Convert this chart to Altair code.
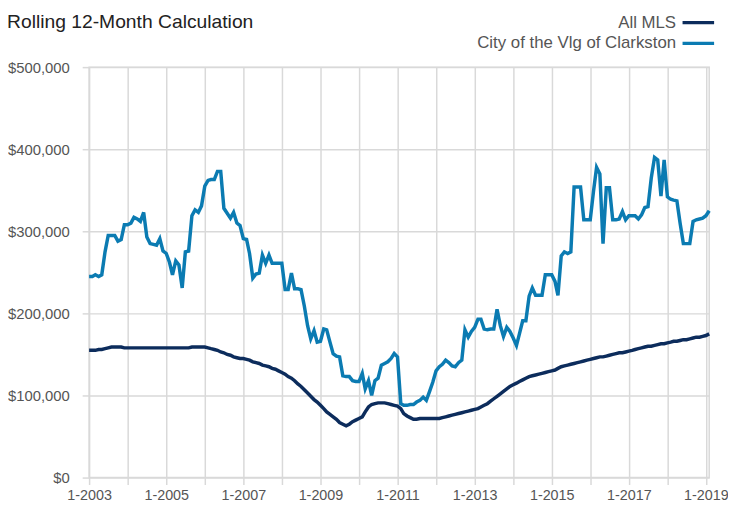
import altair as alt
import pandas as pd

# ---- data (values in $ thousands, monthly, Jan 2003 .. Feb 2019) ----
chart_title = "Rolling 12-Month Calculation"
series_names = ["All MLS", "City of the Vlg of Clarkston"]
series_colors = ["#0c2c5c", "#0b7bb2"]

all_mls = [
    155, 155, 155, 156, 156, 157, 158, 159, 159, 159, 159, 158,   # 2003
    158, 158, 158, 158, 158, 158, 158, 158, 158, 158, 158, 158,   # 2004
    158, 158, 158, 158, 158, 158, 158, 158, 159, 159, 159, 159,   # 2005
    159, 158, 157, 156, 155, 153, 152, 150, 149, 147, 146, 145,   # 2006
    145, 144, 143, 141, 140, 139, 137, 136, 135, 133, 132, 130,   # 2007
    128, 126, 123, 121, 118, 114, 111, 107, 103, 99, 95, 92,      # 2008
    88, 84, 80, 77, 74, 71, 67, 65, 63, 65, 68, 70,               # 2009
    72, 74, 80, 86, 89, 90, 91, 91, 91, 90, 89, 88,               # 2010
    87, 84, 78, 75, 73, 71, 71, 72, 72, 72, 72, 72,               # 2011
    72, 72, 73, 74, 75, 76, 77, 78, 79, 80, 81, 82,               # 2012
    83, 84, 86, 88, 90, 93, 96, 99, 102, 105, 108, 111,           # 2013
    113, 115, 117, 119, 121, 123, 124, 125, 126, 127, 128, 129,   # 2014
    130, 131, 133, 135, 136, 137, 138, 139, 140, 141, 142, 143,   # 2015
    144, 145, 146, 147, 147, 148, 149, 150, 151, 152, 152, 153,   # 2016
    154, 155, 156, 157, 158, 159, 160, 160, 161, 162, 163, 163,   # 2017
    164, 165, 166, 166, 167, 168, 168, 169, 170, 171, 171, 172,   # 2018
    173, 175,                                                     # 2019
]

clarkston = [
    245, 245, 247, 245, 247, 275, 295, 295, 295, 288, 290, 308,   # 2003
    308, 310, 317, 315, 312, 323, 293, 285, 284, 283, 291, 276,   # 2004
    273, 262, 247, 264, 259, 231, 275, 276, 319, 326, 323, 331,   # 2005
    355, 362, 363, 363, 373, 373, 328, 322, 316, 323, 310, 307,   # 2006
    291, 290, 273, 243, 248, 249, 271, 261, 271, 261, 261, 261,   # 2007
    261, 229, 229, 249, 230, 230, 229, 209, 185, 169, 179, 165,   # 2008
    166, 181, 180, 165, 151, 148, 147, 124, 123, 123, 118, 117,   # 2009
    117, 127, 108, 118, 100, 118, 121, 137, 139, 141, 145, 151,   # 2010
    147, 90, 88, 88, 89, 89, 92, 94, 98, 94, 105, 116,            # 2011
    130, 135, 138, 143, 140, 136, 135, 140, 143, 180, 171, 178,   # 2012
    183, 193, 193, 181, 180, 181, 181, 205, 185, 172, 183, 178,   # 2013
    170, 161, 175, 191, 191, 221, 231, 222, 222, 222, 247, 247,   # 2014
    247, 239, 222, 270, 275, 273, 275, 354, 354, 354, 314, 314,   # 2015
    314, 349, 378, 370, 285, 353, 353, 314, 314, 315, 324, 314,   # 2016
    319, 319, 319, 315, 320, 329, 330, 365, 390, 387, 343, 387,   # 2017
    342, 339, 338, 337, 310, 285, 285, 285, 312, 314, 315, 316,   # 2018
    319, 325,                                                     # 2019
]

y_ticks = [0, 100000, 200000, 300000, 400000, 500000]
tick_years = list(range(2003, 2020))

months = pd.date_range("2003-01-01", periods=len(all_mls), freq="MS").strftime("%Y-%m-%d").tolist()

rows = []
for name, vals in zip(series_names, [all_mls, clarkston]):
    for d, v in zip(months, vals):
        rows.append({"date": d, "series": name, "value": v * 1000})
df = pd.DataFrame(rows)

FONT = "Liberation Sans"
GRID = "#d9d9d9"

x_values = [alt.DateTime(year=y, month=1, date=1, utc=True) for y in tick_years]

lines = alt.Chart(df).mark_line(strokeWidth=3.5).encode(
    x=alt.X(
        "date:T",
        title=None,
        scale=alt.Scale(
            type="utc",
            domain=[alt.DateTime(year=2003, month=1, date=1, utc=True),
                    alt.DateTime(year=2019, month=2, date=1, utc=True)],
        ),
        axis=alt.Axis(
            values=x_values,
            labelExpr="utcyear(datum.value) % 2 == 1 ? '1-' + utcyear(datum.value) : ''",
            labelOverlap=False, labelAlign="center", labelFlush=False,
            labelFont=FONT, labelFontSize=14.5, labelColor="#555555",
            labelPadding=4, tickSize=7, tickColor=GRID, tickWidth=1.5,
            grid=True, gridColor=GRID, gridWidth=1.5, domain=False,
        ),
    ),
    y=alt.Y(
        "value:Q",
        title=None,
        scale=alt.Scale(domain=[0, 500000], nice=False),
        axis=alt.Axis(
            values=y_ticks, format="$,.0f",
            labelFont=FONT, labelFontSize=15, labelColor="#555555",
            labelPadding=13, tickSize=7, tickColor=GRID, tickWidth=1.5,
            grid=True, gridColor=GRID, gridWidth=1.5, domain=False,
        ),
    ),
    color=alt.Color(
        "series:N",
        title=None,
        scale=alt.Scale(domain=series_names, range=series_colors),
        legend=alt.Legend(
            orient="none", legendX=603, legendY=-58, direction="vertical",
            symbolType="M-1.45,0H1.45", symbolSize=484, symbolStrokeWidth=3.5,
            labelAlign="right", labelOffset={"expr": "-35.5"}, labelFont=FONT,
            labelFontSize=17, labelColor="#555555", rowPadding=0, labelLimit=400,
        ),
    ),
)

title_text = alt.Chart(pd.DataFrame({"t": [chart_title]})).mark_text(
    align="left", baseline="alphabetic", font=FONT, fontSize=19.5, color="#222222",
).encode(
    text="t:N",
    x=alt.value(-83),
    y=alt.value(-39.5),
)

chart = alt.layer(lines, title_text).properties(
    width=627,
    height=415,
    padding={"left": 82, "top": 57, "right": 19, "bottom": 28},
    autosize=alt.AutoSizeParams(type="none"),
).configure_view(stroke=GRID, strokeWidth=1.5)

chart.save("out.html", embed_options={"renderer": "svg", "actions": False})
